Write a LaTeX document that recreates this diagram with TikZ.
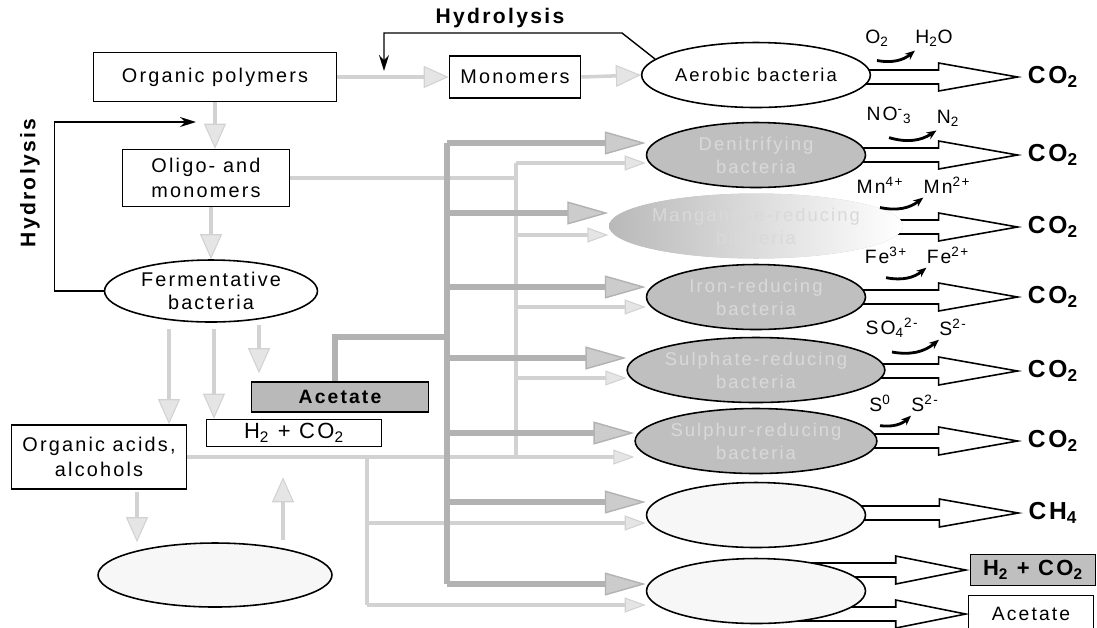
\documentclass[tikz,border=0pt]{standalone}
\usepackage{fontspec}
\setmainfont{Liberation Sans}[LetterSpace=11]
\usetikzlibrary{arrows.meta,shapes.geometric,calc,backgrounds}

\tikzset{
  box/.style={draw, line width=0.9pt, inner sep=0pt, align=center, font=\fontsize{11.3}{14}\selectfont},
  bact/.style={ellipse, draw, line width=0.9pt, inner sep=0pt, align=center,
    minimum width=4.38cm, minimum height=1.3cm, font=\fontsize{10.5}{13}\selectfont},
  reducer/.style={bact, fill=gray!50, text=gray!30},
  pale/.style={bact, fill=gray!6},
  ion/.style={inner sep=0pt, font=\fontsize{11}{13}\selectfont},
  prod/.style={inner sep=0pt, font=\bfseries\fontsize{14}{16}\selectfont},
  title/.style={font=\bfseries\fontsize{12}{14}\selectfont},
  substline/.style={draw=gray!35, line width=2pt},
  subst/.style={substline, -{Triangle[length=0.5cm, width=0.44cm, fill=gray!20, line width=0.6pt]}},
  subsmall/.style={substline, -{Triangle[length=0.42cm, width=0.3cm, fill=gray!20, line width=0.6pt]}},
  acetline/.style={draw=gray!60, line width=3.4pt},
  acetarr/.style={acetline, -{Triangle[length=0.82cm, width=0.46cm, fill=gray!40, line width=0.8pt]}},
  hydro/.style={line width=0.8pt, -{Stealth[length=0.32cm, width=0.2cm]}},
  redox/.style={line width=1.6pt, -{Stealth[length=0.2cm, width=0.16cm]}},
  hollow/.style={draw, line width=0.9pt, fill=white}
}

% hollow block arrow: source, target, gap, head length
\newcommand{\outarrow}[4]{%
  \coordinate (oa-a) at (#1.center |- #2.west);
  \coordinate (oa-b) at ($(#2.west)+(-#3,0)$);
  \draw[hollow] ($(oa-a)+(0,-7)$) -- ($(oa-b)+(-#4,-7)$) -- ($(oa-b)+(-#4,-14)$) -- (oa-b)
    -- ($(oa-b)+(-#4,14)$) -- ($(oa-b)+(-#4,7)$) -- ($(oa-a)+(0,7)$);}
% electron acceptor arrow
\newcommand{\redox}[2]{%
  \draw[redox] ([shift={(0,14)}]#1.south) to[bend right=25] ([shift={(0,4)}]#2.south west);}

\begin{document}
\begin{tikzpicture}[x=0.02cm, y=-0.02cm]
  \useasboundingbox (0,0) rectangle (1097,627);

  % left column
  \node[box, minimum width=4.86cm, minimum height=0.98cm] (poly) at (215,77) {Organic polymers};
  \node[box, minimum width=2.62cm, minimum height=0.84cm] (mono) at (515,77) {Monomers};
  \node[box, minimum width=3.34cm, minimum height=1.14cm] (oligo) at (206,178) {Oligo- and\\monomers};
  \node[bact, fill=white, minimum width=4.26cm, minimum height=1.24cm, font=\fontsize{11.3}{13.5}\selectfont] (ferm) at (211,291) {Fermentative\\bacteria};
  \node[box, minimum width=3.5cm, minimum height=1.28cm] (orgac) at (99,457) {Organic acids,\\alcohols};
  \node[box, minimum width=3.5cm, minimum height=0.54cm, font=\fontsize{12.5}{14}\selectfont] (hco) at (294,433) {H\textsubscript{2} + CO\textsubscript{2}};
  \node[box, fill=gray!55, minimum width=3.54cm, minimum height=0.6cm, font=\bfseries\fontsize{11}{12}\selectfont] (acet) at (340,397) {Acetate};
  \node[pale, minimum width=4.68cm, minimum height=1.28cm] (lefte) at (215,575) {};

  \node[title] (hydtop) at (500,18) {Hydrolysis};
  \node[title, rotate=90] (hydleft) at (30,183) {Hydrolysis};

  % bacteria column
  \node[bact, fill=white] (aero) at (756,75) {Aerobic bacteria};
  \node[reducer] (deni) at (756,155) {Denitrifying\\bacteria};
  \node[reducer, draw=none, left color=gray!55, right color=white] (mang) at (756,226) {Manganese-reducing\\bacteria};
  \node[reducer] (iron) at (756,297) {Iron-reducing\\bacteria};
  \node[reducer] (sulf) at (756,370) {Sulphate-reducing\\bacteria};
  \node[reducer] (sulr) at (756,441) {Sulphur-reducing\\bacteria};
  \node[pale] (meth) at (756,515) {};
  \node[pale] (acgn) at (756,591) {};

  % products
  \node[prod] (c1) at (1053,77) {CO\textsubscript{2}};
  \node[prod] (c2) at (1053,155) {CO\textsubscript{2}};
  \node[prod] (c3) at (1053,227) {CO\textsubscript{2}};
  \node[prod] (c4) at (1053,297) {CO\textsubscript{2}};
  \node[prod] (c5) at (1053,371) {CO\textsubscript{2}};
  \node[prod] (c6) at (1053,441) {CO\textsubscript{2}};
  \node[prod] (ch4) at (1053,513) {CH\textsubscript{4}};
  \node[box, fill=gray!50, minimum width=2.5cm, minimum height=0.62cm, font=\bfseries\fontsize{12.5}{14}\selectfont] (ph2) at (1033,570) {H\textsubscript{2} + CO\textsubscript{2}};
  \node[box, minimum width=2.5cm, minimum height=0.74cm, font=\fontsize{11}{12}\selectfont] (pac) at (1031,614) {Acetate};

  % electron acceptors
  \node[ion] (o2) at (877,38) {O\textsubscript{2}};
  \node[ion] (h2o) at (934,38) {H\textsubscript{2}O};
  \node[ion] (no3) at (889,115) {NO\textsuperscript{-}\textsubscript{3}};
  \node[ion] (n2) at (948,118) {N\textsubscript{2}};
  \node[ion] (mn4) at (880,185) {Mn\textsuperscript{4+}};
  \node[ion] (mn2) at (947,185) {Mn\textsuperscript{2+}};
  \node[ion] (fe3) at (886,255) {Fe\textsuperscript{3+}};
  \node[ion] (fe2) at (948,255) {Fe\textsuperscript{2+}};
  \node[ion] (so4) at (892,328) {SO\textsubscript{4}\textsuperscript{2-}};
  \node[ion] (s2a) at (953,327) {S\textsuperscript{2-}};
  \node[ion] (s0) at (880,403) {S\textsuperscript{0}};
  \node[ion] (s2b) at (925,403) {S\textsuperscript{2-}};

  \redox{o2}{h2o}
  \redox{no3}{n2}
  \redox{mn4}{mn2}
  \redox{fe3}{fe2}
  \redox{so4}{s2a}
  \redox{s0}{s2b}

  \begin{scope}[on background layer]
    \foreach \s/\t in {aero/c1, deni/c2, mang/c3, iron/c4, sulf/c5, sulr/c6, meth/ch4}
      {\outarrow{\s}{\t}{10}{79}}
    \outarrow{acgn}{ph2}{4}{70}
    \outarrow{acgn}{pac}{2}{70}
  \end{scope}

  % hydrolysis
  \coordinate (hydtip) at (384,71);
  \draw[hydro] (aero.171) -- (622,33) -| (hydtip);
  \coordinate (hydtip2) at (196,122);
  \draw[hydro] (ferm.west) -- ++(-49,0) |- (hydtip2);

  % substrate flow
  \draw[subst] (poly.east) -- (mono.west);
  \draw[subst] (mono.east) -- (aero.west);
  \draw[subst] (poly.south) -- (poly.south |- oligo.north);
  \draw[subst] (oligo.south -| ferm.north) -- (ferm.north);
  \coordinate (f1) at ([shift={(-42,6)}]ferm.south);
  \coordinate (f2) at ([shift={(3,6)}]ferm.south);
  \coordinate (f3) at ([shift={(48,2)}]ferm.south);
  \draw[subst] (f1) -- (f1 |- orgac.north);
  \draw[subst] (f2) -- (f2 |- hco.north);
  \draw[subst, shorten >=0.16cm] (f3) -- (f3 |- acet.north);
  \coordinate (o1) at ([shift={(38,2)}]orgac.south);
  \draw[subst] (o1) -- (o1 |- lefte.north);
  \coordinate (l1) at ([shift={(68,-2)}]lefte.north);
  \draw[subst, shorten >=0.6cm] (l1) -- (l1 |- hco.south);

  \coordinate (lbus) at (516,163);
  \coordinate (lbusend) at (516,457);
  \draw[substline] (oligo.east) -- (oligo.east -| lbus);
  \draw[substline] (lbus) -- (lbusend);
  \foreach \e/\y in {deni/163, mang/235, iron/307, sulf/378}
    \draw[subsmall] (516,\y) -- (\e.west |- 516,\y);
  \draw[subsmall] (orgac.east) -- (orgac.east -| sulr.west);
  \coordinate (obus) at (367,457);
  \coordinate (obusend) at (367,605);
  \draw[substline] (obus) -- (obusend);
  \draw[subsmall] (367,523) -- (meth.west |- 367,523);
  \draw[subsmall] (obusend) -- (obusend -| acgn.west);

  % acetate flow
  \coordinate (abus) at (447,143);
  \coordinate (abusend) at (447,584);
  \draw[acetline] ([shift={(-5,0)}]acet.north) |- (447,337);
  \draw[acetline] (abus) -- (abusend);
  \foreach \e/\y in {deni/143, mang/213, iron/287, sulf/358, sulr/433, meth/502}
    \draw[acetarr] (447,\y) -- (\e.west |- 447,\y);
  \draw[acetarr] (abusend) -- (abusend -| acgn.west);
\end{tikzpicture}
\end{document}
